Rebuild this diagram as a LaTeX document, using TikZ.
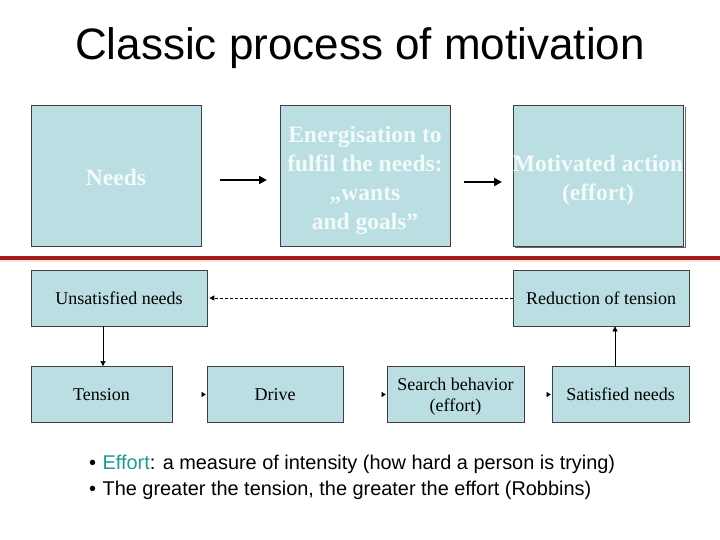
\documentclass[tikz,border=0pt]{standalone}
\usepackage{fontspec}
\setmainfont{Liberation Serif}
\newfontfamily\arialf{Liberation Sans}
\usetikzlibrary{arrows.meta}
\definecolor{boxfill}{HTML}{BADEE2}
\definecolor{boxtext}{HTML}{F2FAFA}
\definecolor{redline}{HTML}{A41C1C}
\definecolor{efftc}{HTML}{1F9A96}
\tikzset{
  bigbox/.style={draw=black!75, line width=0.7pt, fill=boxfill, minimum width=170pt, minimum height=141pt, inner sep=0pt},
  smallbox/.style={draw=black!75, line width=0.7pt, fill=boxfill, minimum height=56pt, inner sep=0pt, font=\fontsize{18}{21}\selectfont},
  bigtxt/.style={align=center, font=\bfseries\fontsize{23.5}{29}\selectfont, inner sep=0pt, text=boxtext},
  thickarr/.style={-{Triangle[length=8pt,width=8pt]}, line width=2.6pt},
  thinarr/.style={-{Triangle[length=5pt,width=5pt]}, line width=0.5pt},
  headonly/.style={-{Triangle[length=4pt,width=5pt]}, line width=0.4pt}
}
\begin{document}
\begin{tikzpicture}[x=1pt,y=-1pt]
\path[use as bounding box] (0,0) rectangle (720,540);
\fill[white] (0,0) rectangle (720,540);
% title
\node[font=\arialf\fontsize{44}{48}\selectfont, inner sep=0pt] (title) at (360,48) {Classic process of motivation};
% top boxes
\fill[black!60] (685,107) rectangle (686,248);
\fill[black!60] (515,247) rectangle (686,248);
\node[bigbox] (needs) at (116,175.5) {};
\node[bigbox] (energ) at (365,175.5) {};
\node[bigbox] (motiv) at (598,175.5) {};
\node[bigtxt] (needsT) at ([yshift=-2pt]needs.center) {Needs};
\node[bigtxt] (energT) at ([yshift=-5pt]energ.center) {Energisation to\\fulfil the needs:\\„wants\\and goals”};
\node[bigtxt] (motivT) at ([yshift=-5pt]motiv.center) {Motivated action\\(effort)};
\coordinate (a1s) at (220,180); \coordinate (a1e) at (267,180);
\coordinate (a2s) at (464,182); \coordinate (a2e) at (502,182);
\draw[thickarr] (a1s) -- (a1e);
\draw[thickarr] (a2s) -- (a2e);
% red line
\fill[red!12] (0,259) rectangle (720,262);
\fill[redline] (0,256) rectangle (720,259.5);
% bottom boxes
\node[smallbox, minimum width=176pt] (unsat) at (119,298) {Unsatisfied needs};
\node[smallbox, minimum width=176pt] (reduc) at (601,298) {Reduction of tension};
\node[smallbox, minimum width=141pt] (tens) at (101.5,394.5) {Tension};
\node[smallbox, minimum width=136pt] (drive) at (275,394.5) {Drive};
\node[smallbox, minimum width=137pt] (search) at (455.5,394.5) {};
\node[font=\fontsize{18}{21}\selectfont, align=center, inner sep=0pt] (searchT) at (455.5,396.5) {Search behavior\\(effort)};
\node[smallbox, minimum width=137pt] (satis) at (620.5,394.5) {Satisfied needs};
\draw[thinarr, dash pattern=on 3pt off 2pt, line width=1pt] (reduc.west) -- ([xshift=2pt]unsat.east);
\draw[thinarr] (unsat.south -| 103,0) -- (tens.north -| 103,0);
\draw[thinarr] (satis.north -| 615,0) -- (reduc.south -| 615,0);
\draw[headonly] ([xshift=-4.5pt]drive.west) -- ([xshift=-1pt]drive.west);
\draw[headonly] ([xshift=-4.5pt]search.west) -- ([xshift=-1pt]search.west);
\draw[headonly] ([xshift=-4.5pt]satis.west) -- ([xshift=-1pt]satis.west);
% bullets
\node[anchor=west, font=\arialf\fontsize{19.9}{22}\selectfont, inner sep=0pt] (b1) at (89,464) {•\hspace{6.5pt}\textcolor{efftc}{Effort}: a measure of intensity (how hard a person is trying)};
\node[anchor=west, font=\arialf\fontsize{19.9}{22}\selectfont, inner sep=0pt] (b2) at (89,490) {•\hspace{6.5pt}The greater the tension, the greater the effort (Robbins)};
\end{tikzpicture}
\end{document}
